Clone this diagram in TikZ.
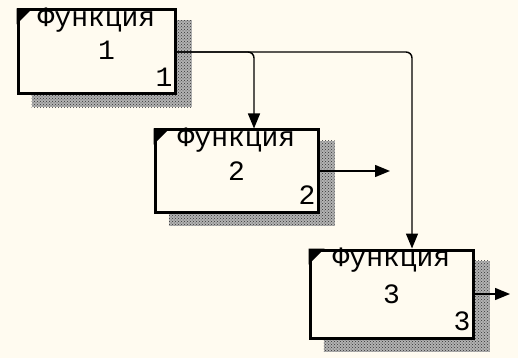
\documentclass[tikz,border=0pt]{standalone}
\usepackage{fontspec}
\setmonofont{Liberation Mono}
\usetikzlibrary{arrows.meta,patterns,backgrounds,calc}
\definecolor{bgcream}{RGB}{255,251,240}

\tikzset{
  funcbox/.style={draw, rectangle, line width=3pt, fill=bgcream,
    minimum width=160pt, minimum height=84pt, inner sep=0pt},
  label/.style={inner sep=0pt, font=\ttfamily\fontsize{28}{28}\selectfont},
  flow/.style={-{Triangle[length=15pt, width=12pt]}, line width=1.4pt, rounded corners=6pt},
  shade/.style={preaction={fill=black!30}, pattern=crosshatch dots, pattern color=black!80}
}

\begin{document}
\begin{tikzpicture}[x=1pt, y=-1pt]
        \useasboundingbox (0, 0) rectangle (518, 358);

        % Function boxes
        \node[funcbox, minimum width=157pt] (f1) at (96.5, 52) {};
        \node[funcbox, minimum width=163pt, minimum height=82pt] (f2) at (236.5, 171) {};
        \node[funcbox, minimum width=163pt, minimum height=88pt] (f3) at (391.5, 294) {};

        % Texts
        \foreach \i in {1,2,3} {
          \node[label, anchor=base] (t\i) at ([yshift=-18pt]f\i.north) {Функция};
          \node[label, anchor=base east] (c\i) at ([xshift=-4pt, yshift=9pt]f\i.south east) {\i};
          \fill (f\i.north west) -- ++(16, 0) -- ++(-16, 16) -- cycle;
        }
        \node[label, anchor=base] (n1) at ([xshift=10pt, yshift=-8pt]f1.center) {1};
        \node[label, anchor=base] (n2) at ([yshift=-9pt]f2.center) {2};
        \node[label, anchor=base] (n3) at ([yshift=-9pt]f3.center) {3};

        % Shadows and background
        \begin{scope}[on background layer]
          \fill[bgcream] (0, 0) rectangle (518, 358);
          \foreach \i in {1,2,3}
            \fill[shade] ($(f\i.north west)+(15, 12)$) rectangle ($(f\i.south east)+(15, 12)$);
        \end{scope}

        % Connections
        \coordinate (o2) at (390, 171);
        \coordinate (o3) at (510, 294);
        \draw[flow] (f1.east) -| ([xshift=17.5pt]f2.north);
        \draw[flow] (f1.east) -| ([xshift=20.5pt]f3.north);
        \draw[flow] (f2.east) -- (o2);
        \draw[flow] (f3.east) -- (o3);
    \end{tikzpicture}
\end{document}
